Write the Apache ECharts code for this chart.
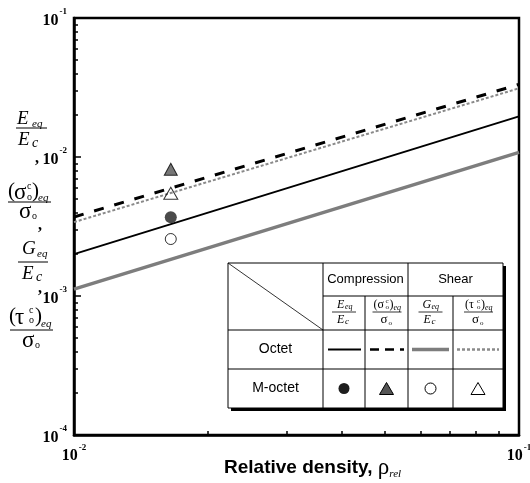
<!DOCTYPE html>
<html>
<head>
<meta charset="utf-8">
<script src="https://cdn.jsdelivr.net/npm/echarts@6/dist/echarts.min.js"></script>
<style>html,body{margin:0;padding:0;background:#fff}#c{width:530px;height:483px}</style>
</head>
<body>
<div id="c"></div>
<script>
// ---- data ----
const lineX = [0.01, 0.1];
const octetE = [0.0020, 0.0196];       // E_eq/E_c, octet (solid)
const octetSigma = [0.0037, 0.0333];   // (σ)eq/σo, octet (dashed)
const octetG = [0.00112, 0.0108];      // G_eq/E_c, octet (gray)
const octetTau = [0.0034, 0.0312];     // (τ)eq/σo, octet (dotted)
const mOctetX = [0.0165];
const mOctetE = [0.00369];
const mOctetSigma = [0.00816];
const mOctetG = [0.00257];
const mOctetTau = [0.00548];
const xMajorTicks = [0.01, 0.1];
const xMinorTicks = [0.02, 0.03, 0.04, 0.05, 0.06, 0.07, 0.08, 0.09];
const yMajorTicks = [0.0001, 0.001, 0.01, 0.1];
const yMinorTicks = [0.0002,0.0003,0.0004,0.0005,0.0006,0.0007,0.0008,0.0009,
  0.002,0.003,0.004,0.005,0.006,0.007,0.008,0.009,
  0.02,0.03,0.04,0.05,0.06,0.07,0.08,0.09];

const pairs = (xs, ys) => xs.map((x, i) => [x, ys[i]]);
const SERIF = '"Liberation Serif","DejaVu Serif",serif';
const SANS = '"Liberation Sans",Arial,sans-serif';

const expLabel = v => '{b|10}{s|' + Math.round(Math.log10(v)) + '}';
const labelRich = {
  b: {fontFamily: SERIF, fontWeight: 'bold', fontSize: 16, color: '#000', verticalAlign: 'bottom', lineHeight: 21},
  s: {fontFamily: SERIF, fontWeight: 'bold', fontSize: 9, color: '#000', verticalAlign: 'top', lineHeight: 21, padding: [0, 0, 0, 1]}
};

const chart = echarts.init(document.getElementById('c'), null, {renderer: 'canvas'});

function T(text, x, y, font, opts) {
  return Object.assign({type: 'text', x: x, y: y, z: 100,
    style: Object.assign({text: text, font: font, fill: '#000', align: 'left', verticalAlign: 'middle'}, opts || {})});
}
function L(x1, y1, x2, y2, w, extra) {
  return {type: 'line', z: 100, shape: {x1, y1, x2, y2},
    style: Object.assign({stroke: '#000', lineWidth: w}, extra || {})};
}
const it = (s) => 'italic ' + s + 'px ' + SERIF;
const rm = (s) => s + 'px ' + SERIF;

// left title (stacked fractions)
const yTitle = [
  T('E', 17, 119, it(19)), T('eq', 32, 124, it(11)),
  L(16, 128, 47, 128, 1),
  T('E', 18, 140, it(19)), T('c', 32, 143, it(14)),
  T(',', 35, 159, 'bold ' + rm(16)),
  T('(', 8, 191, rm(21)), T('σ', 14, 193, rm(23)), T('c', 27, 186, rm(10)), T('o', 27, 197, rm(10)),
  T(')', 32, 191, rm(21)), T('eq', 38, 198, it(11)),
  L(8, 202, 51, 202, 1),
  T('σ', 19, 212, rm(23)), T('o', 32, 216, rm(10)),
  T(',', 38, 226, 'bold ' + rm(16)),
  T('G', 22, 249, it(19)), T('eq', 37, 254, it(11)),
  L(18, 262, 48, 262, 1),
  T('E', 22, 274, it(19)), T('c', 36, 277, it(14)),
  T(',', 38, 289, 'bold ' + rm(16)),
  T('(', 9, 316, rm(21)), T('τ', 15, 318, rm(23)), T('c', 29, 310, rm(10)), T('o', 29, 320, rm(10)),
  T(')', 35, 316, rm(21)), T('eq', 41, 324, it(11)),
  L(10, 330, 53, 330, 1),
  T('σ', 22, 341, rm(23)), T('o', 35, 345, rm(10))
];

// legend table
const tx0 = 228, ty0 = 263, tx1 = 503, ty1 = 408;
const cols = [228, 323, 365, 408, 453, 503];
const rows = [263, 296, 330, 369, 408];
const cc = i => (cols[i] + cols[i + 1]) / 2;
const rowOct = (rows[2] + rows[3]) / 2, rowM = (rows[3] + rows[4]) / 2;
const table = [
  {type: 'rect', z: 90, shape: {x: tx0 + 3, y: ty0 + 3, width: tx1 - tx0, height: ty1 - ty0}, style: {fill: '#000'}},
  {type: 'rect', z: 91, shape: {x: tx0, y: ty0, width: tx1 - tx0, height: ty1 - ty0}, style: {fill: '#fff', stroke: '#000', lineWidth: 1}},
  L(cols[1], ty0, cols[1], ty1, 1), L(cols[3], ty0, cols[3], ty1, 1),
  L(cols[2], rows[1], cols[2], ty1, 1), L(cols[4], rows[1], cols[4], ty1, 1),
  L(cols[1], rows[1], tx1, rows[1], 1),
  L(tx0, rows[2], tx1, rows[2], 1), L(tx0, rows[3], tx1, rows[3], 1),
  L(tx0, ty0, cols[1], rows[2], 0.8),
  T('Compression', (cols[1] + cols[3]) / 2, (rows[0] + rows[1]) / 2, '13px ' + SANS, {align: 'center'}),
  T('Shear', (cols[3] + cols[5]) / 2, (rows[0] + rows[1]) / 2, '13px ' + SANS, {align: 'center'}),
  T('Octet', cc(0), rowOct, '14px ' + SANS, {align: 'center'}),
  T('M-octet', cc(0), rowM, '14px ' + SANS, {align: 'center'}),
  T('E', cc(1) - 7, rows[1] + 9, it(12)), T('eq', cc(1) + 1, rows[1] + 11, it(8)),
  L(cc(1) - 12, rows[1] + 16, cc(1) + 12, rows[1] + 16, 0.8),
  T('E', cc(1) - 7, rows[1] + 24, it(12)), T('c', cc(1) + 1, rows[1] + 26, it(9)),
  T('(σ', cc(2) - 13, rows[1] + 9, rm(12)), T('c', cc(2) - 1, rows[1] + 5, rm(7)), T('o', cc(2) - 1, rows[1] + 11, rm(7)),
  T(')', cc(2) + 3, rows[1] + 9, rm(12)), T('eq', cc(2) + 7, rows[1] + 12, it(8)),
  L(cc(2) - 14, rows[1] + 16, cc(2) + 15, rows[1] + 16, 0.8),
  T('σ', cc(2) - 6, rows[1] + 24, rm(13)), T('o', cc(2) + 2, rows[1] + 27, rm(7)),
  T('G', cc(3) - 8, rows[1] + 9, it(12)), T('eq', cc(3) + 1, rows[1] + 11, it(8)),
  L(cc(3) - 12, rows[1] + 16, cc(3) + 12, rows[1] + 16, 0.8),
  T('E', cc(3) - 7, rows[1] + 24, it(12)), T('c', cc(3) + 1, rows[1] + 26, it(9)),
  T('(τ', cc(4) - 13, rows[1] + 9, rm(12)), T('c', cc(4) - 1, rows[1] + 5, rm(7)), T('o', cc(4) - 1, rows[1] + 11, rm(7)),
  T(')', cc(4) + 3, rows[1] + 9, rm(12)), T('eq', cc(4) + 7, rows[1] + 12, it(8)),
  L(cc(4) - 14, rows[1] + 16, cc(4) + 15, rows[1] + 16, 0.8),
  T('σ', cc(4) - 6, rows[1] + 24, rm(13)), T('o', cc(4) + 2, rows[1] + 27, rm(7)),
  L(cols[1] + 5, rowOct, cols[2] - 4, rowOct, 2),
  L(cols[2] + 5, rowOct, cols[3] - 4, rowOct, 2.5, {lineDash: [9, 6]}),
  L(cols[3] + 4, rowOct, cols[4] - 4, rowOct, 3.5, {stroke: '#7d7d7d'}),
  L(cols[4] + 4, rowOct, cols[5] - 4, rowOct, 2.5, {stroke: '#8a8a8a', lineDash: [3, 2]}),
  {type: 'circle', z: 100, shape: {cx: cc(1), cy: rowM, r: 5.5}, style: {fill: '#1e1e1e'}},
  {type: 'polygon', z: 100, shape: {points: [[cc(2), rowM - 6], [cc(2) + 7, rowM + 6], [cc(2) - 7, rowM + 6]]}, style: {fill: '#555', stroke: '#000', lineWidth: 1}},
  {type: 'circle', z: 100, shape: {cx: cc(3), cy: rowM, r: 5.5}, style: {fill: '#fff', stroke: '#000', lineWidth: 1}},
  {type: 'polygon', z: 100, shape: {points: [[cc(4), rowM - 6], [cc(4) + 7, rowM + 6], [cc(4) - 7, rowM + 6]]}, style: {fill: '#fff', stroke: '#000', lineWidth: 1}}
];

const xTitle = [
  {type: 'text', x: 224, y: 468, z: 100, style: {
    text: '{a|Relative density, }{r|ρ}{s|rel}', align: 'left', verticalAlign: 'middle',
    rich: {
      a: {fontFamily: SANS, fontWeight: 'bold', fontSize: 19, fill: '#000', verticalAlign: 'middle', lineHeight: 24},
      r: {fontFamily: SERIF, fontSize: 23, fill: '#000', verticalAlign: 'middle', lineHeight: 24},
      s: {fontFamily: SERIF, fontStyle: 'italic', fontSize: 11, fill: '#000', verticalAlign: 'bottom', lineHeight: 24}
    }
  }}
];

const axisCommon = {type: 'log', logBase: 10, splitLine: {show: false}};

const option = {
  animation: false,
  backgroundColor: '#fff',
  grid: {left: 74, right: 11, top: 18, bottom: 48, show: true, borderColor: '#000', borderWidth: 2.5, outerBoundsMode: 'none'},
  xAxis: [
    Object.assign({}, axisCommon, {
      min: 0.01, max: 0.1, position: 'bottom',
      axisLine: {show: true, lineStyle: {color: '#000', width: 2.5}},
      axisTick: {show: true, inside: true, length: 7, lineStyle: {color: '#000', width: 1.5}, customValues: xMajorTicks},
      axisLabel: {show: true, margin: 8, formatter: expLabel, rich: labelRich, customValues: xMajorTicks}
    }),
    Object.assign({}, axisCommon, {
      min: 0.01, max: 0.1, position: 'bottom',
      axisLine: {show: false},
      axisTick: {show: true, inside: true, length: 4, lineStyle: {color: '#000', width: 1.5}, customValues: xMinorTicks},
      axisLabel: {show: false}
    })
  ],
  yAxis: [
    Object.assign({}, axisCommon, {
      min: 0.0001, max: 0.1, position: 'left',
      axisLine: {show: true, lineStyle: {color: '#000', width: 2.5}},
      axisTick: {show: true, inside: true, length: 7, lineStyle: {color: '#000', width: 1.5}, customValues: yMajorTicks},
      axisLabel: {show: true, margin: 7, formatter: expLabel, rich: labelRich, customValues: yMajorTicks}
    }),
    Object.assign({}, axisCommon, {
      min: 0.0001, max: 0.1, position: 'left',
      axisLine: {show: false},
      axisTick: {show: true, inside: true, length: 4, lineStyle: {color: '#000', width: 1.5}, customValues: yMinorTicks},
      axisLabel: {show: false}
    })
  ],
  series: [
    {type: 'line', name: 'Octet Eeq/Ec', data: pairs(lineX, octetE), symbol: 'none',
     lineStyle: {color: '#000', width: 2}, z: 5},
    {type: 'line', name: 'Octet Geq/Ec', data: pairs(lineX, octetG), symbol: 'none',
     lineStyle: {color: '#7d7d7d', width: 3.5}, z: 4},
    {type: 'line', name: 'Octet tau', data: pairs(lineX, octetTau), symbol: 'none',
     lineStyle: {color: '#8a8a8a', width: 2, type: [3, 2]}, z: 4},
    {type: 'line', name: 'Octet sigma', data: pairs(lineX, octetSigma), symbol: 'none',
     lineStyle: {color: '#000', width: 3, type: [10, 11]}, z: 5},
    {type: 'scatter', name: 'M-octet E', data: pairs(mOctetX, mOctetE), symbol: 'circle', symbolSize: 12,
     itemStyle: {color: '#1e1e1e'}, z: 6},
    {type: 'scatter', name: 'M-octet sigma', data: pairs(mOctetX, mOctetSigma), symbol: 'triangle', symbolSize: [13, 12],
     itemStyle: {color: '#555', borderColor: '#000', borderWidth: 1}, z: 6},
    {type: 'scatter', name: 'M-octet G', data: pairs(mOctetX, mOctetG), symbol: 'circle', symbolSize: 11,
     itemStyle: {color: '#fff', borderColor: '#000', borderWidth: 1}, z: 6},
    {type: 'scatter', name: 'M-octet tau', data: pairs(mOctetX, mOctetTau), symbol: 'triangle', symbolSize: [14, 12],
     itemStyle: {color: 'rgba(255,255,255,0)', borderColor: '#000', borderWidth: 1}, z: 6}
  ],
  graphic: yTitle.concat(table, xTitle)
};
chart.setOption(option);
</script>
</body>
</html>
